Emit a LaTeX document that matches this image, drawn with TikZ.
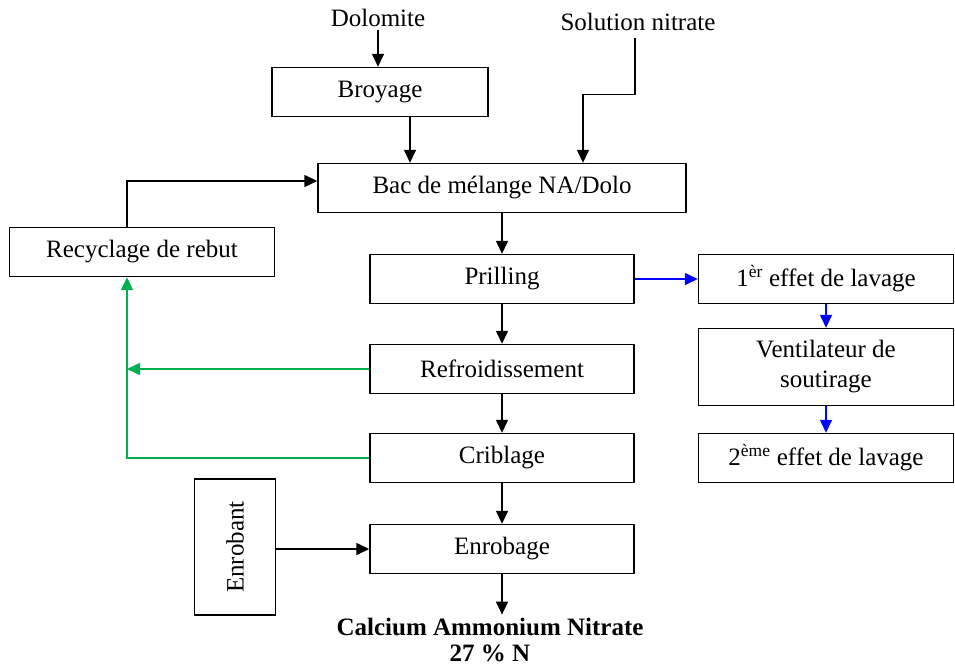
\documentclass[tikz,border=0pt]{standalone}
\usepackage{fontspec}
\setmainfont{Liberation Serif}
\usepackage{xcolor}
\usetikzlibrary{arrows.meta,positioning,calc}
\definecolor{recgreen}{HTML}{00B050}
\definecolor{washblue}{HTML}{0000FF}

\begin{document}
\begin{tikzpicture}[
      x=1pt, y=-1pt,
      every node/.style={font=\fontsize{25}{30}\selectfont},
      box/.style={draw, line width=1.4pt, inner sep=0pt,
                  minimum width=264pt, minimum height=49pt, align=center},
      arr/.style={-{Triangle[length=13pt,width=12pt]}, line width=1.4pt},
      barr/.style={arr, washblue},
      garr/.style={arr, recgreen}
  ]
    \useasboundingbox (0,0) rectangle (955,666);

    % ---- Feeds ----
    \node (dolo) at (378,18) {Dolomite};
    \node (sol)  at (638,22) {Solution nitrate};

    % ---- Main line ----
    \node[box, minimum width=216pt] (broy) at (380,92) {Broyage};
    \node[box, minimum width=368pt] (bac)  at (502,188) {Bac de mélange NA/Dolo};
    \node[box] (pril)  at (502,279) {Prilling};
    \node[box] (refr)  at (502,369) {Refroidissement};
    \node[box] (crib)  at (502,458) {Criblage};
    \node[box] (enrob) at (502,549) {Enrobage};
    \node[font=\fontsize{25}{26}\selectfont\bfseries, align=center] (can)
          at (490,640) {Calcium Ammonium Nitrate\\27 \% N};

    % ---- Recycling ----
    \node[box, minimum width=265pt] (recy) at (142,252) {Recyclage de rebut};
    \coordinate (gx) at (127,0);

    % ---- Coating agent ----
    \node[box, rotate=90, minimum width=136pt, minimum height=81pt]
          (enbt) at (235,547) {Enrobant};

    % ---- Washing ----
    \node[box, minimum width=255pt] (lav1) at (826,279) {1\textsuperscript{èr} effet de lavage};
    \node[box, minimum width=255pt, minimum height=77pt] (vent) at (826,367)
          {Ventilateur de\\soutirage};
    \node[box, minimum width=255pt] (lav2) at (826,458) {2\textsuperscript{ème} effet de lavage};

    % Arrows
    \draw[arr] (dolo.south) -- (dolo.south |- broy.north);
    \draw[arr] ([xshift=30pt]broy.south) -- ([xshift=30pt]broy.south |- bac.north);
    \draw[arr] ([xshift=-3pt,yshift=-4pt]sol.south) -- ++(0,56) -| ([xshift=81pt]bac.north);
    \draw[arr] (bac) -- (pril);
    \draw[arr] (pril) -- (refr);
    \draw[arr] (refr) -- (crib);
    \draw[arr] (crib) -- (enrob);
    \draw[arr] (enrob.south) -- (enrob.south |- can.north);
    \draw[arr] (enrob.west -| enbt.south) -- (enrob.west);
    \draw[arr] ([xshift=-15pt]recy.north) |- ([yshift=7pt]bac.west);

    \draw[garr] (refr.west) -- (refr.west -| gx);
    \draw[garr] (crib.west) -| ([xshift=-15pt]recy.south);

    \draw[barr] (pril) -- (lav1);
    \draw[barr] (lav1) -- (vent);
    \draw[barr] (vent) -- (lav2);

  \end{tikzpicture}
\end{document}
